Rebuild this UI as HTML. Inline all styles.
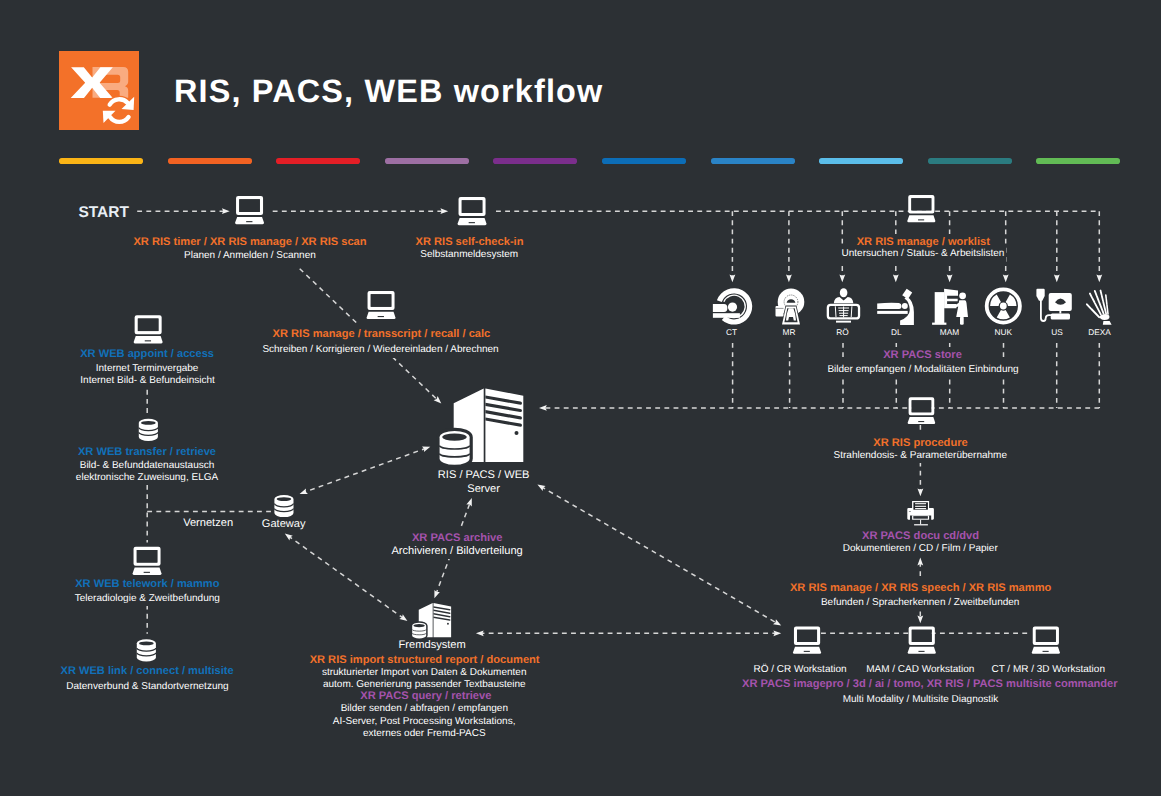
<!DOCTYPE html>
<html><head><meta charset="utf-8"><title>RIS, PACS, WEB workflow</title>
<style>
html,body{margin:0;padding:0;}
body{text-rendering:geometricPrecision;width:1161px;height:796px;background:#2c3034;position:relative;overflow:hidden;font-family:"Liberation Sans",sans-serif;}
svg{position:absolute;left:0;top:0;}
.lb,.lt{position:absolute;width:800px;text-align:center;white-space:nowrap;line-height:1;}
.lb{color:transparent;}
.lb span{background:#2c3034;padding:2.5px 2px;}
.title{position:absolute;left:174px;font-size:32.4px;letter-spacing:1.17px;font-weight:bold;color:#fff;line-height:1;white-space:nowrap;}
</style></head><body>
<svg width="1161" height="796" viewBox="0 0 1161 796">
<defs>
<symbol id="laptop" overflow="visible">
  <path fill="#fff" fill-rule="evenodd" d="M3.2,0 H25.9 Q28,0 28,2.1 V17 Q28,19 25.9,19 H3.1 Q1,19 1,17 V2.1 Q1,0 3.2,0 Z M4.2,3.3 V15.9 H24.8 V3.3 Z"/>
  <rect x="4.2" y="3.3" width="20.6" height="12.6" fill="#2c3034"/>
  <path fill="#fff" d="M2.1,20.9 H27 L28.9,26.6 Q29.2,28.2 27.6,28.2 H1.3 Q-0.2,28.2 0.1,26.6 Z"/>
  <rect x="11.1" y="25.1" width="6.3" height="1.1" fill="#2c3034"/>
</symbol>
<symbol id="db" overflow="visible">
  <path fill="#fff" d="M0,3.9 A9.55,3.9 0 0 1 19.1,3.9 V18.1 A9.55,4 0 0 1 0,18.1 Z"/>
  <ellipse cx="9.55" cy="4.1" rx="7.3" ry="1.9" fill="#2c3034"/>
  <path fill="none" stroke="#2c3034" stroke-width="1.3" d="M0,8.6 A9.55,3.2 0 0 0 19.1,8.6 M0,13.4 A9.55,3.2 0 0 0 19.1,13.4"/>
</symbol>
<symbol id="server" overflow="visible">
  <polygon fill="#fff" points="14.1,14.7 44.1,0 44.1,73.5 14.1,73.5"/>
  <polygon fill="#fff" points="45.8,0 83.7,7.3 83.7,73.5 45.8,73.5"/>
  <path fill="#2c3034" d="M45.8,6.9 L80.8,13.1 A1.6,1.6 0 0 1 80.8,16.3 L45.8,10.1 Z M45.8,14.2 L80.8,20.4 A1.6,1.6 0 0 1 80.8,23.6 L45.8,17.4 Z M45.8,21.6 L80.8,27.8 A1.6,1.6 0 0 1 80.8,31 L45.8,24.8 Z M45.8,28.9 L80.8,35.1 A1.6,1.6 0 0 1 80.8,38.3 L45.8,32.1 Z"/>
  <circle cx="76.9" cy="44.6" r="2" fill="#2c3034"/>
  <path fill="#fff" stroke="#2c3034" stroke-width="6.4" paint-order="stroke" d="M0,48.7 A15,6.3 0 0 1 30,48.7 V70 A15,6.3 0 0 1 0,70 Z"/>
  <ellipse cx="14.9" cy="48.6" rx="12.2" ry="3.6" fill="#2c3034"/>
  <path fill="none" stroke="#2c3034" stroke-width="1.6" d="M0,57.1 A15,3.4 0 0 0 30,57.1 M0,65 A15,3.4 0 0 0 30,65"/>
</symbol>
<symbol id="printer" overflow="visible">
  <path fill="#fff" d="M8.4,18.1 H32.8 Q33.9,18.1 33.9,19.3 V28.6 Q33.9,29.7 32.8,29.7 H31.2 V25.4 H10 V29.7 H8.4 Q7.3,29.7 7.3,28.6 V19.3 Q7.3,18.1 8.4,18.1 Z"/>
  <rect x="12.1" y="11" width="17" height="9" fill="#fff"/>
  <rect x="13.4" y="12.3" width="14.5" height="7.4" fill="#1d2023"/>
  <g stroke="#fff" stroke-width="1.1"><line x1="15.1" y1="13.7" x2="26.1" y2="13.7"/><line x1="15.1" y1="16.3" x2="26.1" y2="16.3"/><line x1="15.1" y1="18.6" x2="26.1" y2="18.6"/></g>
  <rect x="12.1" y="25.4" width="17" height="4.3" fill="#fff"/>
  <rect x="13.3" y="26.1" width="14.6" height="2.6" fill="#2c3034"/>
  <rect x="8.9" y="21" width="2" height="0.8" fill="#2c3034" opacity="0.6"/>
  <rect x="20.1" y="29.7" width="1" height="4.6" fill="#fff"/>
  <rect x="14.1" y="34.2" width="13.8" height="1.2" fill="#fff"/>
</symbol>
</defs>

<rect x="59" y="51" width="80" height="79" fill="#f37129"/>
<path fill="#f9ab80" fill-rule="evenodd" d="M92.5,67 H123.2 Q128.2,67 128.2,72 V81.5 Q128.2,84.7 125,86.2 Q128.2,87.2 128.2,90.5 V97.7 H119.7 V92.6 Q119.7,90.1 117.2,90.1 H100 V97.7 H92.5 Z M100,74.8 H117.7 Q120.2,74.8 120.2,77.3 V80.4 Q120.2,82.9 117.7,82.9 H100 Z"/>
<polygon fill="#fff" points="71.1,67.2 83.8,67.2 92.2,77.6 100.4,67.2 112.8,67.2 99.6,82.8 112.8,98 100.2,98 92.2,87.8 84,98 70.7,98 85.2,82.8"/>
<path fill="none" stroke="#f37129" stroke-width="7" d="M109.72,104.61 A11.3,11.3 0 0 1 127.70,103.04"/>
<path fill="none" stroke="#fff" stroke-width="4.4" stroke-linecap="round" d="M109.72,104.61 A11.3,11.3 0 0 1 127.70,103.04"/>
<polygon fill="#fff" points="134.2,96.8 133.6,110 121.5,109"/>
<path fill="none" stroke="#fff" stroke-width="4.4" stroke-linecap="round" d="M128.56,117.08 A11.3,11.3 0 0 1 110.04,117.08"/>
<polygon fill="#fff" points="102.8,110.8 115.5,110.8 103.5,123"/>

<g stroke="#d6d6d6" stroke-width="1.5" stroke-dasharray="4.85 4.3" fill="none">
<line x1="137.20" y1="211.20" x2="225.70" y2="211.20"/>
<line x1="272.70" y1="211.20" x2="444.20" y2="211.20"/>
<line x1="496.00" y1="211.20" x2="1099.30" y2="211.20"/>
<line x1="732.40" y1="211.20" x2="732.40" y2="278.30"/>
<line x1="788.90" y1="211.20" x2="788.90" y2="278.30"/>
<line x1="842.30" y1="211.20" x2="842.30" y2="278.30"/>
<line x1="895.80" y1="211.20" x2="895.80" y2="278.30"/>
<line x1="949.60" y1="211.20" x2="949.60" y2="278.30"/>
<line x1="1005.70" y1="211.20" x2="1005.70" y2="278.30"/>
<line x1="1056.80" y1="211.20" x2="1056.80" y2="278.30"/>
<line x1="1099.30" y1="211.20" x2="1099.30" y2="278.30"/>
<line x1="732.60" y1="343.00" x2="732.60" y2="407.90"/>
<line x1="789.60" y1="343.00" x2="789.60" y2="407.90"/>
<line x1="843.00" y1="343.00" x2="843.00" y2="407.90"/>
<line x1="896.30" y1="343.00" x2="896.30" y2="407.90"/>
<line x1="949.70" y1="343.00" x2="949.70" y2="407.90"/>
<line x1="1003.50" y1="343.00" x2="1003.50" y2="407.90"/>
<line x1="1056.70" y1="343.00" x2="1056.70" y2="407.90"/>
<line x1="1099.30" y1="343.00" x2="1099.30" y2="407.90"/>
<line x1="1099.30" y1="407.90" x2="543.00" y2="407.90"/>
<line x1="920.40" y1="425.00" x2="920.40" y2="492.30"/>
<line x1="920.30" y1="576.00" x2="920.30" y2="561.60"/>
<line x1="920.30" y1="611.50" x2="920.30" y2="619.30"/>
<line x1="777.20" y1="633.30" x2="479.90" y2="633.30"/>
<line x1="821.00" y1="633.30" x2="1031.00" y2="633.30"/>
<line x1="299.70" y1="268.70" x2="438.40" y2="400.74"/>
<line x1="426.54" y1="448.06" x2="303.36" y2="492.54"/>
<line x1="288.05" y1="535.83" x2="404.15" y2="618.77"/>
<line x1="435.80" y1="594.45" x2="470.40" y2="501.85"/>
<line x1="540.86" y1="486.50" x2="777.74" y2="623.60"/>
<line x1="147.20" y1="389.80" x2="147.20" y2="413.30"/>
<line x1="147.20" y1="485.00" x2="147.20" y2="542.50"/>
<line x1="147.20" y1="511.40" x2="270.90" y2="511.40"/>
<line x1="147.20" y1="604.70" x2="147.20" y2="633.80"/>
</g>
<g fill="#f2f2f2">
<polygon points="229.70,211.20 221.90,208.30 223.20,211.20 221.90,214.10"/>
<polygon points="448.20,211.20 440.40,208.30 441.70,211.20 440.40,214.10"/>
<polygon points="732.40,282.30 735.30,274.50 732.40,275.80 729.50,274.50"/>
<polygon points="788.90,282.30 791.80,274.50 788.90,275.80 786.00,274.50"/>
<polygon points="842.30,282.30 845.20,274.50 842.30,275.80 839.40,274.50"/>
<polygon points="895.80,282.30 898.70,274.50 895.80,275.80 892.90,274.50"/>
<polygon points="949.60,282.30 952.50,274.50 949.60,275.80 946.70,274.50"/>
<polygon points="1005.70,282.30 1008.60,274.50 1005.70,275.80 1002.80,274.50"/>
<polygon points="1056.80,282.30 1059.70,274.50 1056.80,275.80 1053.90,274.50"/>
<polygon points="1099.30,282.30 1102.20,274.50 1099.30,275.80 1096.40,274.50"/>
<polygon points="539.00,407.90 546.80,410.80 545.50,407.90 546.80,405.00"/>
<polygon points="920.40,496.30 923.30,488.50 920.40,489.80 917.50,488.50"/>
<polygon points="920.30,557.60 917.40,565.40 920.30,564.10 923.20,565.40"/>
<polygon points="920.30,623.30 923.20,615.50 920.30,616.80 917.40,615.50"/>
<polygon points="475.90,633.30 483.70,636.20 482.40,633.30 483.70,630.40"/>
<polygon points="781.20,633.30 773.40,630.40 774.70,633.30 773.40,636.20"/>
<polygon points="441.30,403.50 437.65,396.02 436.59,399.02 433.65,400.22"/>
<polygon points="299.60,493.90 307.92,493.98 305.71,491.69 305.95,488.52"/>
<polygon points="430.30,446.70 421.98,446.62 424.19,448.91 423.95,452.08"/>
<polygon points="407.40,621.10 402.74,614.21 402.11,617.32 399.37,618.92"/>
<polygon points="284.80,533.50 289.46,540.39 290.09,537.28 292.83,535.68"/>
<polygon points="471.80,498.10 466.35,504.39 469.53,504.19 471.79,506.42"/>
<polygon points="434.40,598.20 439.85,591.91 436.67,592.11 434.41,589.88"/>
<polygon points="781.20,625.60 775.90,619.18 775.57,622.34 773.00,624.20"/>
<polygon points="537.40,484.50 542.70,490.92 543.03,487.76 545.60,485.90"/>
</g>
</svg>
<div style="position:absolute;left:58.90px;top:158.4px;width:84px;height:5.6px;border-radius:2.8px;background:#fbb416"></div>
<div style="position:absolute;left:167.50px;top:158.4px;width:84px;height:5.6px;border-radius:2.8px;background:#f26222"></div>
<div style="position:absolute;left:276.10px;top:158.4px;width:84px;height:5.6px;border-radius:2.8px;background:#e41e26"></div>
<div style="position:absolute;left:384.70px;top:158.4px;width:84px;height:5.6px;border-radius:2.8px;background:#9d6fa3"></div>
<div style="position:absolute;left:493.30px;top:158.4px;width:84px;height:5.6px;border-radius:2.8px;background:#7b2e8c"></div>
<div style="position:absolute;left:601.90px;top:158.4px;width:84px;height:5.6px;border-radius:2.8px;background:#0c6db7"></div>
<div style="position:absolute;left:710.50px;top:158.4px;width:84px;height:5.6px;border-radius:2.8px;background:#2a83c6"></div>
<div style="position:absolute;left:819.10px;top:158.4px;width:84px;height:5.6px;border-radius:2.8px;background:#5bbde9"></div>
<div style="position:absolute;left:927.70px;top:158.4px;width:84px;height:5.6px;border-radius:2.8px;background:#2b7b80"></div>
<div style="position:absolute;left:1036.30px;top:158.4px;width:84px;height:5.6px;border-radius:2.8px;background:#62bb55"></div>
<div class="title" style="top:75px">RIS, PACS, WEB workflow</div>
<div class="lb" style="left:-150.0px;top:237.20px;font-size:11.1px;font-weight:bold;"><span>XR RIS timer / XR RIS manage / XR RIS scan</span></div><div class="lb" style="left:-150.1px;top:250.93px;font-size:10.0px;"><span>Planen / Anmelden / Scannen</span></div><div class="lb" style="left:69.5px;top:236.70px;font-size:11.1px;font-weight:bold;"><span>XR RIS self-check-in</span></div><div class="lb" style="left:69.2px;top:250.23px;font-size:10.0px;"><span>Selbstanmeldesystem</span></div><div class="lb" style="left:523.3px;top:237.10px;font-size:11.1px;font-weight:bold;"><span>XR RIS manage / worklist</span></div><div class="lb" style="left:523.0px;top:249.03px;font-size:10.0px;"><span>Untersuchen / Status- &amp; Arbeitslisten</span></div><div class="lb" style="left:-18.6px;top:328.90px;font-size:11.1px;font-weight:bold;"><span>XR RIS manage / transscript / recall / calc</span></div><div class="lb" style="left:-19.5px;top:345.04px;font-size:10.0px;"><span>Schreiben / Korrigieren / Wiedereinladen / Abrechnen</span></div><div class="lb" style="left:-252.9px;top:348.60px;font-size:11.1px;font-weight:bold;"><span>XR WEB appoint / access</span></div><div class="lb" style="left:-252.9px;top:363.74px;font-size:10.0px;"><span>Internet Terminvergabe</span></div><div class="lb" style="left:-252.4px;top:375.63px;font-size:10.0px;"><span>Internet Bild- &amp; Befundeinsicht</span></div><div class="lb" style="left:-253.0px;top:446.70px;font-size:11.1px;font-weight:bold;"><span>XR WEB transfer / retrieve</span></div><div class="lb" style="left:-253.0px;top:461.04px;font-size:10.0px;"><span>Bild- &amp; Befunddatenaustausch</span></div><div class="lb" style="left:-253.0px;top:472.94px;font-size:10.0px;"><span>elektronische Zuweisung, ELGA</span></div><div class="lb" style="left:-252.7px;top:578.70px;font-size:11.1px;font-weight:bold;"><span>XR WEB telework / mammo</span></div><div class="lb" style="left:-252.7px;top:593.84px;font-size:10.0px;"><span>Teleradiologie &amp; Zweitbefundung</span></div><div class="lb" style="left:-252.9px;top:666.30px;font-size:11.1px;font-weight:bold;"><span>XR WEB link / connect / multisite</span></div><div class="lb" style="left:-252.6px;top:681.74px;font-size:10.0px;"><span>Datenverbund &amp; Standortvernetzung</span></div><div class="lb" style="left:-191.9px;top:517.90px;font-size:11.1px;"><span>Vernetzen</span></div><div class="lb" style="left:-116.3px;top:518.70px;font-size:11.1px;"><span>Gateway</span></div><div class="lb" style="left:83.7px;top:469.90px;font-size:11.1px;"><span>RIS / PACS / WEB</span></div><div class="lb" style="left:83.6px;top:483.90px;font-size:11.1px;"><span>Server</span></div><div class="lb" style="left:57.2px;top:532.70px;font-size:11.1px;font-weight:bold;"><span>XR PACS archive</span></div><div class="lb" style="left:57.1px;top:545.50px;font-size:11.1px;"><span>Archivieren / Bildverteilung</span></div><div class="lb" style="left:32.2px;top:639.50px;font-size:11.1px;"><span>Fremdsystem</span></div><div class="lb" style="left:24.6px;top:654.70px;font-size:11.1px;font-weight:bold;"><span>XR RIS import structured report / document</span></div><div class="lb" style="left:24.2px;top:668.13px;font-size:10.0px;"><span>strukturierter Import von Daten &amp; Dokumenten</span></div><div class="lb" style="left:24.3px;top:679.74px;font-size:10.0px;"><span>autom. Generierung passender Textbausteine</span></div><div class="lb" style="left:25.8px;top:690.50px;font-size:11.1px;font-weight:bold;"><span>XR PACS query / retrieve</span></div><div class="lb" style="left:24.3px;top:704.13px;font-size:10.0px;"><span>Bilder senden / abfragen / empfangen</span></div><div class="lb" style="left:24.1px;top:716.94px;font-size:10.0px;"><span>AI-Server, Post Processing Workstations,</span></div><div class="lb" style="left:24.3px;top:728.53px;font-size:10.0px;"><span>externes oder Fremd-PACS</span></div><div class="lb" style="left:522.5px;top:350.40px;font-size:11.1px;font-weight:bold;"><span>XR PACS store</span></div><div class="lb" style="left:523.0px;top:364.94px;font-size:10.0px;"><span>Bilder empfangen / Modalitäten Einbindung</span></div><div class="lb" style="left:520.5px;top:437.70px;font-size:11.1px;font-weight:bold;"><span>XR RIS procedure</span></div><div class="lb" style="left:520.3px;top:450.63px;font-size:10.0px;"><span>Strahlendosis- &amp; Parameterübernahme</span></div><div class="lb" style="left:520.5px;top:530.60px;font-size:11.1px;font-weight:bold;"><span>XR PACS docu cd/dvd</span></div><div class="lb" style="left:520.2px;top:543.84px;font-size:10.0px;"><span>Dokumentieren / CD / Film / Papier</span></div><div class="lb" style="left:520.6px;top:583.10px;font-size:11.1px;font-weight:bold;"><span>XR RIS manage / XR RIS speech / XR RIS mammo</span></div><div class="lb" style="left:520.2px;top:597.53px;font-size:10.0px;"><span>Befunden / Spracherkennen / Zweitbefunden</span></div><div class="lb" style="left:400.0px;top:664.74px;font-size:10.0px;"><span>RÖ / CR Workstation</span></div><div class="lb" style="left:520.3px;top:664.74px;font-size:10.0px;"><span>MAM / CAD Workstation</span></div><div class="lb" style="left:648.2px;top:664.74px;font-size:10.0px;"><span>CT / MR / 3D Workstation</span></div><div class="lb" style="left:529.8px;top:678.90px;font-size:11.1px;font-weight:bold;"><span>XR PACS imagepro / 3d / ai / tomo, XR RIS / PACS multisite commander</span></div><div class="lb" style="left:520.5px;top:695.03px;font-size:10.0px;"><span>Multi Modality / Multisite Diagnostik</span></div>
<svg width="1161" height="796" viewBox="0 0 1161 796">
<use href="#laptop" transform="translate(235.05,196.00) scale(1.0)"/>
<use href="#laptop" transform="translate(457.55,197.00) scale(1.0)"/>
<use href="#laptop" transform="translate(907.28,195.00) scale(0.97)"/>
<use href="#laptop" transform="translate(907.67,397.20) scale(0.95)"/>
<use href="#laptop" transform="translate(133.65,315.20) scale(1.0)"/>
<use href="#laptop" transform="translate(132.55,546.70) scale(1.0)"/>
<use href="#laptop" transform="translate(366.55,290.90) scale(1.0)"/>
<use href="#laptop" transform="translate(792.98,626.50) scale(0.97)"/>
<use href="#laptop" transform="translate(907.68,626.50) scale(0.97)"/>
<use href="#laptop" transform="translate(1031.78,626.50) scale(0.97)"/>
<use href="#db" transform="translate(138.80,418.80) scale(1.0)"/>
<use href="#db" transform="translate(274.40,495.00) scale(1.0)"/>
<use href="#db" transform="translate(136.80,639.30) scale(1.0)"/>
<use href="#server" transform="translate(439.6,388.5)"/>
<use href="#server" transform="translate(412.2,603) scale(0.465)"/>
<use href="#printer" transform="translate(900,490)"/>
<path fill="#fff" d="M716.90,300.18 A18.2,18.2 0 1 1 721.82,319.93 L725.30,316.06 A13.0,13.0 0 1 0 721.78,301.95 Z"/>
<path fill="none" stroke="#fff" stroke-width="1.3" d="M723.85,301.67 A11.2,11.2 0 1 1 729.27,316.55"/>
<path fill="#fff" d="M712.9,304.1 H724 Q727.4,304.1 727.4,308 Q727.4,312 724,312 H712.9 Z"/>
<circle cx="732.5" cy="307.1" r="4.6" fill="#fff"/>
<rect x="712.9" y="313.2" width="27" height="4.6" fill="#fff"/>
<circle cx="791" cy="301.9" r="13.3" fill="#fff"/>
<circle cx="791" cy="301.9" r="6.9" fill="none" stroke="#2c3034" stroke-width="0.7" stroke-dasharray="1 1"/>
<path fill="#2c3034" d="M786.6,302.8 A4.5,4.5 0 0 1 795.4,302.8 Z"/>
<polygon fill="#2c3034" points="785.6,305.6 796.4,305.6 801.2,325.5 780.8,325.5"/>
<polygon fill="#fff" points="786.1,306.4 795.9,306.4 800,324.5 782,324.5"/>
<polygon fill="#2c3034" points="787.3,308.2 794.7,308.2 797.6,322.3 784.4,322.3"/>
<path fill="#fff" d="M788.6,308.2 H793.4 L795.2,314 L796,320.5 H793.8 L793,317 H789 L788.2,320.5 H786 L786.8,314 Z"/>
<rect x="775.5" y="306" width="8" height="10.5" rx="1" fill="#fff"/>
<line x1="775.5" y1="308.4" x2="783.5" y2="308.4" stroke="#2c3034" stroke-width="0.5"/>
<ellipse cx="843.6" cy="292.8" rx="3.8" ry="4.5" fill="#fff"/>
<path fill="#fff" d="M833.8,303.2 Q834.2,297.4 839.5,297 L843.6,300.4 L847.7,297 Q853,297.4 853.3,303.2 Z"/>
<rect x="827.85" y="304.85" width="31.2" height="13.6" rx="2.8" fill="none" stroke="#fff" stroke-width="2.3"/>
<rect x="836" y="320.7" width="15" height="1.9" fill="#fff"/>
<g stroke="#fff" stroke-width="1"><line x1="843.6" y1="306.5" x2="843.6" y2="317.5"/><line x1="838.2" y1="308" x2="849" y2="308"/><line x1="838.6" y1="310.6" x2="848.6" y2="310.6"/><line x1="839" y1="313.2" x2="848.2" y2="313.2"/><line x1="839.5" y1="315.6" x2="847.7" y2="315.6"/><line x1="835.3" y1="306.3" x2="836" y2="317"/><line x1="851.9" y1="306.3" x2="851.2" y2="317"/></g>
<path fill="#fff" d="M877.2,303.5 Q889,302.3 899,303 Q901.5,303.3 901.5,306 Q901.5,309 899,309 H877.2 Z"/>
<circle cx="904.8" cy="306" r="3" fill="#fff"/>
<rect x="877.2" y="310.9" width="30.5" height="3" fill="#fff"/>
<path fill="#fff" d="M906.5,296.5 Q913.5,300 913.9,312 V325 H900.1 V320.5 Q909.5,317 909.8,310 Q909.5,302 904.5,298.5 Z"/>
<polygon fill="#fff" points="906.7,288.7 912.2,292.4 908,299 902.2,295.3"/>
<rect x="934.7" y="292.1" width="9.6" height="31" fill="#fff"/>
<rect x="932.1" y="322.6" width="14.3" height="2.2" fill="#fff"/>
<path fill="#fff" d="M944.1,288.7 L958,290.5 V295.8 H947.1 V298.8 H957.7 V301.3 H947.1 V304.1 H956.4 V308.3 H944.1 Z"/>
<circle cx="962.6" cy="295.8" r="3.4" fill="#fff"/>
<path fill="#fff" d="M959.4,300.3 H965 Q966.2,300.6 966.5,303 L968,316.9 H956.2 L958.2,306.5 L955.4,307.4 L954.8,305.6 L958.8,302.8 Q959,300.6 959.4,300.3 Z"/>
<rect x="960" y="316.5" width="3.7" height="8.3" rx="1.2" fill="#fff"/>
<circle cx="1003.3" cy="306.0" r="16.6" fill="none" stroke="#fff" stroke-width="3.8"/>
<circle cx="1003.3" cy="306.0" r="3.4" fill="#fff"/>
<path fill="#fff" d="M1005.65,310.07 L1009.90,317.43 A13.2,13.2 0 0 1 996.70,317.43 L1000.95,310.07 A4.7,4.7 0 0 0 1005.65,310.07 Z"/>
<path fill="#fff" d="M998.60,306.00 L990.10,306.00 A13.2,13.2 0 0 1 996.70,294.57 L1000.95,301.93 A4.7,4.7 0 0 0 998.60,306.00 Z"/>
<path fill="#fff" d="M1005.65,301.93 L1009.90,294.57 A13.2,13.2 0 0 1 1016.50,306.00 L1008.00,306.00 A4.7,4.7 0 0 0 1005.65,301.93 Z"/>
<path fill="#fff" d="M1037.4,288.7 H1043.7 Q1044.7,288.7 1044.7,290 V296 L1042.3,300.7 H1039 L1036.4,296 V290 Q1036.4,288.7 1037.4,288.7 Z"/>
<path fill="none" stroke="#fff" stroke-width="1.8" d="M1040.9,300 V318 Q1040.9,321 1043.5,321 Q1045.7,321 1045.7,318 Q1045.9,315.2 1049,315.2 H1052"/>
<rect x="1048.7" y="293" width="23.1" height="17.9" rx="2" fill="#fff"/>
<path fill="#2c3034" d="M1055,302.2 Q1060.5,294.8 1066,302.2 Q1060.5,307.4 1055,302.2 Z"/>
<rect x="1059.4" y="310.5" width="1.9" height="3" fill="#fff"/>
<rect x="1050.7" y="313.5" width="19.3" height="6.1" rx="1.5" fill="#fff"/>
<g stroke="#fff" stroke-linecap="round" fill="none">
<path stroke-width="1.9" stroke-dasharray="5.5 1 12" d="M1086.9,304.3 L1099.1,317.2"/>
<path stroke-width="1.8" stroke-dasharray="4 0.9 5 0.9 14" d="M1089.9,293.5 L1100.8,314.4"/>
<path stroke-width="1.8" stroke-dasharray="4.5 0.9 5.5 0.9 14" d="M1094.8,290.9 L1103.6,313.6"/>
<path stroke-width="1.8" stroke-dasharray="4.5 0.9 5.5 0.9 14" d="M1100.5,290.5 L1106.1,313.6"/>
<path stroke-width="1.6" stroke-dasharray="3.5 0.9 4.5 0.9 12" d="M1105.8,295 L1108,314"/>
</g>
<path fill="#fff" d="M1099.5,316.2 Q1101,314.2 1105,314 Q1109.5,314 1109.5,317 Q1109.3,320 1104.5,320 Q1100,320 1099.5,316.2 Z"/>
<polygon fill="#fff" points="1103.4,321.1 1109.6,321.1 1111.6,324.8 1102.8,324.8"/>
</svg>
<div class="lt" style="left:-150.0px;top:237.20px;font-size:11.1px;color:#f2702a;font-weight:bold;"><span>XR RIS timer / XR RIS manage / XR RIS scan</span></div><div class="lt" style="left:-150.1px;top:250.93px;font-size:10.0px;color:#ffffff;"><span>Planen / Anmelden / Scannen</span></div><div class="lt" style="left:69.5px;top:236.70px;font-size:11.1px;color:#f2702a;font-weight:bold;"><span>XR RIS self-check-in</span></div><div class="lt" style="left:69.2px;top:250.23px;font-size:10.0px;color:#ffffff;"><span>Selbstanmeldesystem</span></div><div class="lt" style="left:523.3px;top:237.10px;font-size:11.1px;color:#f2702a;font-weight:bold;"><span>XR RIS manage / worklist</span></div><div class="lt" style="left:523.0px;top:249.03px;font-size:10.0px;color:#ffffff;"><span>Untersuchen / Status- &amp; Arbeitslisten</span></div><div class="lt" style="left:-18.6px;top:328.90px;font-size:11.1px;color:#f2702a;font-weight:bold;"><span>XR RIS manage / transscript / recall / calc</span></div><div class="lt" style="left:-19.5px;top:345.04px;font-size:10.0px;color:#ffffff;"><span>Schreiben / Korrigieren / Wiedereinladen / Abrechnen</span></div><div class="lt" style="left:-252.9px;top:348.60px;font-size:11.1px;color:#1170b9;font-weight:bold;"><span>XR WEB appoint / access</span></div><div class="lt" style="left:-252.9px;top:363.74px;font-size:10.0px;color:#ffffff;"><span>Internet Terminvergabe</span></div><div class="lt" style="left:-252.4px;top:375.63px;font-size:10.0px;color:#ffffff;"><span>Internet Bild- &amp; Befundeinsicht</span></div><div class="lt" style="left:-253.0px;top:446.70px;font-size:11.1px;color:#1170b9;font-weight:bold;"><span>XR WEB transfer / retrieve</span></div><div class="lt" style="left:-253.0px;top:461.04px;font-size:10.0px;color:#ffffff;"><span>Bild- &amp; Befunddatenaustausch</span></div><div class="lt" style="left:-253.0px;top:472.94px;font-size:10.0px;color:#ffffff;"><span>elektronische Zuweisung, ELGA</span></div><div class="lt" style="left:-252.7px;top:578.70px;font-size:11.1px;color:#1170b9;font-weight:bold;"><span>XR WEB telework / mammo</span></div><div class="lt" style="left:-252.7px;top:593.84px;font-size:10.0px;color:#ffffff;"><span>Teleradiologie &amp; Zweitbefundung</span></div><div class="lt" style="left:-252.9px;top:666.30px;font-size:11.1px;color:#1170b9;font-weight:bold;"><span>XR WEB link / connect / multisite</span></div><div class="lt" style="left:-252.6px;top:681.74px;font-size:10.0px;color:#ffffff;"><span>Datenverbund &amp; Standortvernetzung</span></div><div class="lt" style="left:-191.9px;top:517.90px;font-size:11.1px;color:#ffffff;"><span>Vernetzen</span></div><div class="lt" style="left:-116.3px;top:518.70px;font-size:11.1px;color:#ffffff;"><span>Gateway</span></div><div class="lt" style="left:83.7px;top:469.90px;font-size:11.1px;color:#ffffff;"><span>RIS / PACS / WEB</span></div><div class="lt" style="left:83.6px;top:483.90px;font-size:11.1px;color:#ffffff;"><span>Server</span></div><div class="lt" style="left:57.2px;top:532.70px;font-size:11.1px;color:#a653ad;font-weight:bold;"><span>XR PACS archive</span></div><div class="lt" style="left:57.1px;top:545.50px;font-size:11.1px;color:#ffffff;"><span>Archivieren / Bildverteilung</span></div><div class="lt" style="left:32.2px;top:639.50px;font-size:11.1px;color:#ffffff;"><span>Fremdsystem</span></div><div class="lt" style="left:24.6px;top:654.70px;font-size:11.1px;color:#f2702a;font-weight:bold;"><span>XR RIS import structured report / document</span></div><div class="lt" style="left:24.2px;top:668.13px;font-size:10.0px;color:#ffffff;"><span>strukturierter Import von Daten &amp; Dokumenten</span></div><div class="lt" style="left:24.3px;top:679.74px;font-size:10.0px;color:#ffffff;"><span>autom. Generierung passender Textbausteine</span></div><div class="lt" style="left:25.8px;top:690.50px;font-size:11.1px;color:#a653ad;font-weight:bold;"><span>XR PACS query / retrieve</span></div><div class="lt" style="left:24.3px;top:704.13px;font-size:10.0px;color:#ffffff;"><span>Bilder senden / abfragen / empfangen</span></div><div class="lt" style="left:24.1px;top:716.94px;font-size:10.0px;color:#ffffff;"><span>AI-Server, Post Processing Workstations,</span></div><div class="lt" style="left:24.3px;top:728.53px;font-size:10.0px;color:#ffffff;"><span>externes oder Fremd-PACS</span></div><div class="lt" style="left:522.5px;top:350.40px;font-size:11.1px;color:#a653ad;font-weight:bold;"><span>XR PACS store</span></div><div class="lt" style="left:523.0px;top:364.94px;font-size:10.0px;color:#ffffff;"><span>Bilder empfangen / Modalitäten Einbindung</span></div><div class="lt" style="left:520.5px;top:437.70px;font-size:11.1px;color:#f2702a;font-weight:bold;"><span>XR RIS procedure</span></div><div class="lt" style="left:520.3px;top:450.63px;font-size:10.0px;color:#ffffff;"><span>Strahlendosis- &amp; Parameterübernahme</span></div><div class="lt" style="left:520.5px;top:530.60px;font-size:11.1px;color:#a653ad;font-weight:bold;"><span>XR PACS docu cd/dvd</span></div><div class="lt" style="left:520.2px;top:543.84px;font-size:10.0px;color:#ffffff;"><span>Dokumentieren / CD / Film / Papier</span></div><div class="lt" style="left:520.6px;top:583.10px;font-size:11.1px;color:#f2702a;font-weight:bold;"><span>XR RIS manage / XR RIS speech / XR RIS mammo</span></div><div class="lt" style="left:520.2px;top:597.53px;font-size:10.0px;color:#ffffff;"><span>Befunden / Spracherkennen / Zweitbefunden</span></div><div class="lt" style="left:400.0px;top:664.74px;font-size:10.0px;color:#ffffff;"><span>RÖ / CR Workstation</span></div><div class="lt" style="left:520.3px;top:664.74px;font-size:10.0px;color:#ffffff;"><span>MAM / CAD Workstation</span></div><div class="lt" style="left:648.2px;top:664.74px;font-size:10.0px;color:#ffffff;"><span>CT / MR / 3D Workstation</span></div><div class="lt" style="left:529.8px;top:678.90px;font-size:11.1px;color:#a653ad;font-weight:bold;"><span>XR PACS imagepro / 3d / ai / tomo, XR RIS / PACS multisite commander</span></div><div class="lt" style="left:520.5px;top:695.03px;font-size:10.0px;color:#ffffff;"><span>Multi Modality / Multisite Diagnostik</span></div><div class="lt" style="left:331.5px;top:328.37px;font-size:8.3px;color:#ffffff;"><span>CT</span></div><div class="lt" style="left:389.0px;top:328.37px;font-size:8.3px;color:#ffffff;"><span>MR</span></div><div class="lt" style="left:442.5px;top:328.37px;font-size:8.3px;color:#ffffff;"><span>RÖ</span></div><div class="lt" style="left:496.4px;top:328.37px;font-size:8.3px;color:#ffffff;"><span>DL</span></div><div class="lt" style="left:549.5px;top:328.37px;font-size:8.3px;color:#ffffff;"><span>MAM</span></div><div class="lt" style="left:603.3px;top:328.37px;font-size:8.3px;color:#ffffff;"><span>NUK</span></div><div class="lt" style="left:657.0px;top:328.37px;font-size:8.3px;color:#ffffff;"><span>US</span></div><div class="lt" style="left:699.5px;top:328.37px;font-size:8.3px;color:#ffffff;"><span>DEXA</span></div><div class="lt" style="left:-296.3px;top:204.78px;font-size:15.5px;color:#e8eef4;font-weight:bold;"><span>START</span></div>
</body></html>
